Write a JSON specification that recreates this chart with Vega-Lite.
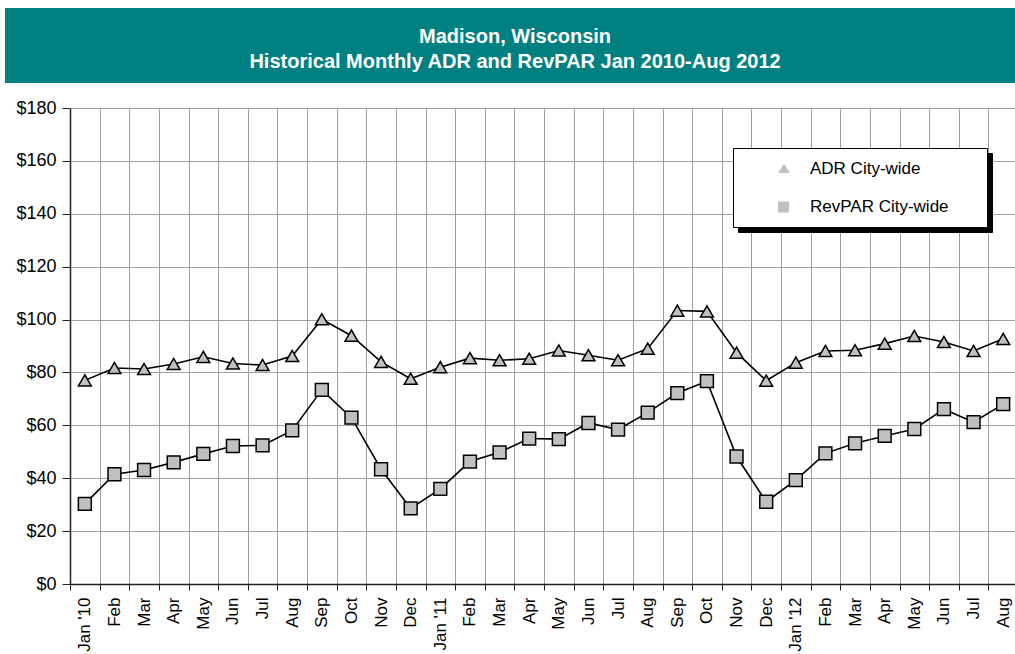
{
  "$schema": "https://vega.github.io/schema/vega-lite/v6.json",
  "padding": {"left": 5, "top": 8, "right": 0, "bottom": 0},
  "background": "white",
  "spacing": 16,
  "config": {
    "font": "Liberation Sans",
    "view": {"stroke": null},
    "axis": {"labelFont": "Liberation Sans", "labelColor": "black"}
  },
  "datasets": {
    "hotel": [
      {"month": "2010-01-15", "series": "ADR City-wide", "value": 77.0},
      {"month": "2010-02-15", "series": "ADR City-wide", "value": 81.7},
      {"month": "2010-03-15", "series": "ADR City-wide", "value": 81.3},
      {"month": "2010-04-15", "series": "ADR City-wide", "value": 83.2},
      {"month": "2010-05-15", "series": "ADR City-wide", "value": 85.9},
      {"month": "2010-06-15", "series": "ADR City-wide", "value": 83.4},
      {"month": "2010-07-15", "series": "ADR City-wide", "value": 82.8},
      {"month": "2010-08-15", "series": "ADR City-wide", "value": 86.2},
      {"month": "2010-09-15", "series": "ADR City-wide", "value": 100.1},
      {"month": "2010-10-15", "series": "ADR City-wide", "value": 93.9},
      {"month": "2010-11-15", "series": "ADR City-wide", "value": 84.0},
      {"month": "2010-12-15", "series": "ADR City-wide", "value": 77.6},
      {"month": "2011-01-15", "series": "ADR City-wide", "value": 82.0},
      {"month": "2011-02-15", "series": "ADR City-wide", "value": 85.4},
      {"month": "2011-03-15", "series": "ADR City-wide", "value": 84.6},
      {"month": "2011-04-15", "series": "ADR City-wide", "value": 85.2},
      {"month": "2011-05-15", "series": "ADR City-wide", "value": 88.3},
      {"month": "2011-06-15", "series": "ADR City-wide", "value": 86.5},
      {"month": "2011-07-15", "series": "ADR City-wide", "value": 84.6},
      {"month": "2011-08-15", "series": "ADR City-wide", "value": 89.0},
      {"month": "2011-09-15", "series": "ADR City-wide", "value": 103.4},
      {"month": "2011-10-15", "series": "ADR City-wide", "value": 103.1},
      {"month": "2011-11-15", "series": "ADR City-wide", "value": 87.5},
      {"month": "2011-12-15", "series": "ADR City-wide", "value": 76.9},
      {"month": "2012-01-15", "series": "ADR City-wide", "value": 83.7},
      {"month": "2012-02-15", "series": "ADR City-wide", "value": 88.1},
      {"month": "2012-03-15", "series": "ADR City-wide", "value": 88.4},
      {"month": "2012-04-15", "series": "ADR City-wide", "value": 90.9},
      {"month": "2012-05-15", "series": "ADR City-wide", "value": 93.8},
      {"month": "2012-06-15", "series": "ADR City-wide", "value": 91.5},
      {"month": "2012-07-15", "series": "ADR City-wide", "value": 88.1},
      {"month": "2012-08-15", "series": "ADR City-wide", "value": 92.7},
      {"month": "2010-01-15", "series": "RevPAR City-wide", "value": 30.3},
      {"month": "2010-02-15", "series": "RevPAR City-wide", "value": 41.5},
      {"month": "2010-03-15", "series": "RevPAR City-wide", "value": 43.1},
      {"month": "2010-04-15", "series": "RevPAR City-wide", "value": 46.0},
      {"month": "2010-05-15", "series": "RevPAR City-wide", "value": 49.2},
      {"month": "2010-06-15", "series": "RevPAR City-wide", "value": 52.2},
      {"month": "2010-07-15", "series": "RevPAR City-wide", "value": 52.4},
      {"month": "2010-08-15", "series": "RevPAR City-wide", "value": 58.1},
      {"month": "2010-09-15", "series": "RevPAR City-wide", "value": 73.4},
      {"month": "2010-10-15", "series": "RevPAR City-wide", "value": 62.9},
      {"month": "2010-11-15", "series": "RevPAR City-wide", "value": 43.4},
      {"month": "2010-12-15", "series": "RevPAR City-wide", "value": 28.6},
      {"month": "2011-01-15", "series": "RevPAR City-wide", "value": 36.0},
      {"month": "2011-02-15", "series": "RevPAR City-wide", "value": 46.3},
      {"month": "2011-03-15", "series": "RevPAR City-wide", "value": 49.8},
      {"month": "2011-04-15", "series": "RevPAR City-wide", "value": 55.0},
      {"month": "2011-05-15", "series": "RevPAR City-wide", "value": 54.8},
      {"month": "2011-06-15", "series": "RevPAR City-wide", "value": 60.9},
      {"month": "2011-07-15", "series": "RevPAR City-wide", "value": 58.4},
      {"month": "2011-08-15", "series": "RevPAR City-wide", "value": 64.8},
      {"month": "2011-09-15", "series": "RevPAR City-wide", "value": 72.2},
      {"month": "2011-10-15", "series": "RevPAR City-wide", "value": 76.7},
      {"month": "2011-11-15", "series": "RevPAR City-wide", "value": 48.2},
      {"month": "2011-12-15", "series": "RevPAR City-wide", "value": 31.1},
      {"month": "2012-01-15", "series": "RevPAR City-wide", "value": 39.3},
      {"month": "2012-02-15", "series": "RevPAR City-wide", "value": 49.4},
      {"month": "2012-03-15", "series": "RevPAR City-wide", "value": 53.2},
      {"month": "2012-04-15", "series": "RevPAR City-wide", "value": 56.0},
      {"month": "2012-05-15", "series": "RevPAR City-wide", "value": 58.6},
      {"month": "2012-06-15", "series": "RevPAR City-wide", "value": 66.1},
      {"month": "2012-07-15", "series": "RevPAR City-wide", "value": 61.2},
      {"month": "2012-08-15", "series": "RevPAR City-wide", "value": 68.0}
    ],
    "banner": [
      {"line": 1, "text": "Madison, Wisconsin"},
      {"line": 2, "text": "Historical Monthly ADR and RevPAR Jan 2010-Aug 2012"}
    ]
  },
  "vconcat": [
    {
      "width": 948,
      "height": 75,
      "data": {"name": "banner"},
      "layer": [
        {
          "mark": {"type": "rect", "color": "#008080"},
          "encoding": {
            "x": {"datum": 0, "type": "quantitative", "scale": {"domain": [0, 1], "range": [-65, 945], "nice": false, "zero": false}, "axis": null},
            "x2": {"datum": 1}
          }
        },
        {
          "mark": {"type": "text", "color": "white", "fontWeight": "bold", "fontSize": 20, "font": "Liberation Sans", "baseline": "middle", "align": "center", "dy": 4},
          "encoding": {
            "x": {"datum": 0.505, "type": "quantitative"},
            "y": {"field": "line", "type": "ordinal", "scale": {"padding": 1}, "axis": null},
            "text": {"field": "text"}
          }
        }
      ]
    },
    {
      "width": 948,
      "height": 476,
      "data": {"name": "hotel"},
      "encoding": {
        "x": {
          "field": "month", "timeUnit": "yearmonth", "type": "ordinal",
          "scale": {"type": "band", "paddingInner": 0, "paddingOuter": 0},
          "axis": {
            "title": null, "tickBand": "extent", "grid": true, "gridColor": "#a0a0a0", "gridWidth": 1,
            "domainColor": "#222222", "domainWidth": 1.5, "tickColor": "#222222", "tickSize": 6,
            "labelAngle": -90, "labelFontSize": 17, "labelPadding": 7,
            "labelExpr": "month(datum.value) == 0 ? timeFormat(datum.value, \"%b '%y\") : timeFormat(datum.value, '%b')"
          }
        },
        "y": {
          "field": "value", "type": "quantitative",
          "scale": {"domain": [0, 180], "nice": false},
          "axis": {
            "title": null, "values": [0, 20, 40, 60, 80, 100, 120, 140, 160, 180], "format": "$.0f",
            "grid": true, "gridColor": "#a0a0a0", "gridWidth": 1,
            "domainColor": "#222222", "domainWidth": 1.5, "tickColor": "#222222", "tickSize": 8,
            "labelFontSize": 18, "labelPadding": 6
          }
        }
      },
      "layer": [
        {
          "mark": {"type": "line", "color": "black", "strokeWidth": 1.6},
          "encoding": {"detail": {"field": "series"}}
        },
        {
          "mark": {"type": "point", "filled": true, "fill": "#c0c0c0", "stroke": "black", "strokeWidth": 1.5, "size": 165, "opacity": 1},
          "encoding": {
            "shape": {"field": "series", "type": "nominal", "scale": {"domain": ["ADR City-wide", "RevPAR City-wide"], "range": ["triangle-up", "square"]}, "legend": null}
          }
        },
        {
          "mark": {"type": "point", "filled": false, "fill": "black", "stroke": "black", "strokeWidth": 1.2, "size": 256, "opacity": 0},
          "encoding": {
            "shape": {
              "field": "series", "type": "nominal",
              "scale": {"domain": ["ADR City-wide", "RevPAR City-wide"], "range": ["M1.125,0H6.125", "M1.125,0H6.125"]},
              "legend": {
                "title": null, "orient": "none", "legendX": 668, "legendY": 45, "zindex": 0,
                "padding": 12, "strokeColor": "black", "fillColor": "black",
                "symbolSize": 256, "symbolOpacity": 1, "symbolStrokeColor": "black", "symbolStrokeWidth": 1.2,
                "labelOffset": 47, "labelFontSize": 17, "labelColor": "black", "labelFont": "Liberation Sans",
                "rowPadding": 21, "labelLimit": 400,
                "labelExpr": "datum.label + '\u00a0\u00a0\u00a0\u2800'"
              }
            }
          }
        },
        {
          "mark": {"type": "point", "filled": false, "fill": "#c0c0c0", "stroke": "black", "strokeWidth": 1.2, "size": 256, "opacity": 0},
          "encoding": {
            "shape": {
              "field": "series", "type": "nominal",
              "scale": {"domain": ["ADR City-wide", "RevPAR City-wide"], "range": ["M1.125,0H3.33M4.17,0H6.125M3.75,-0.65L4.5,0.5L3,0.5Z", "M1.125,0H3M4.38,0H6.125M3,-0.69H4.38V0.69H3Z"]},
              "legend": {
                "title": null, "orient": "none", "legendX": 663, "legendY": 40, "zindex": 1,
                "padding": 12, "strokeColor": "black", "fillColor": "white",
                "symbolSize": 256, "symbolOpacity": 1, "symbolFillColor": "#c0c0c0", "symbolStrokeColor": "black", "symbolStrokeWidth": 1.2,
                "labelOffset": 47, "labelFontSize": 17, "labelColor": "black", "labelFont": "Liberation Sans",
                "rowPadding": 21, "labelLimit": 400,
                "labelExpr": "datum.label + '\u00a0\u00a0\u00a0\u2800'"
              }
            }
          }
        }
      ],
      "resolve": {"scale": {"shape": "independent"}}
    }
  ]
}
